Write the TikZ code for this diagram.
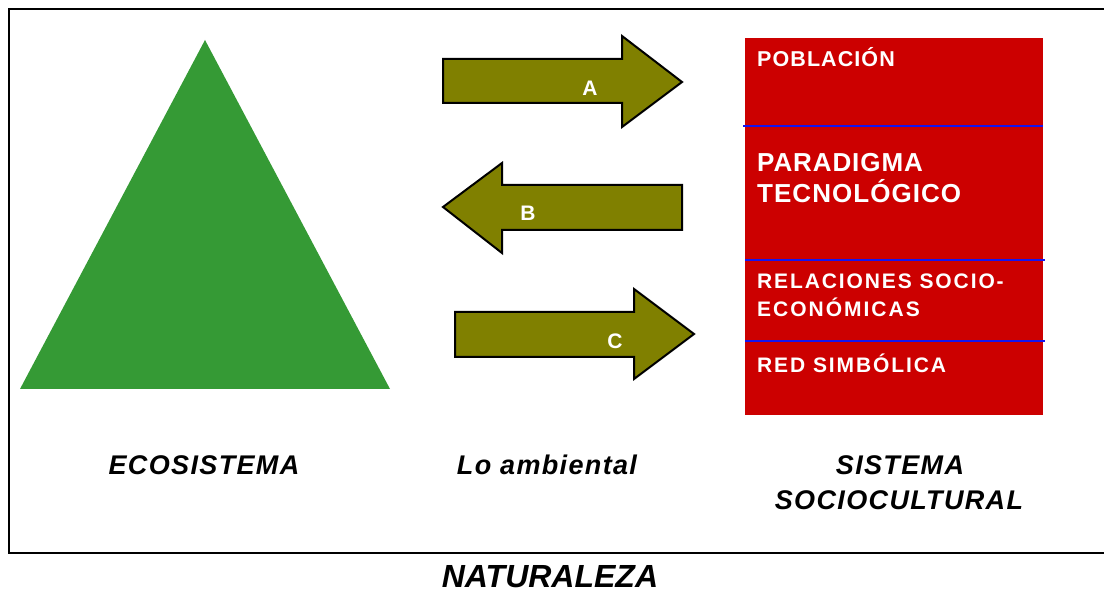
\documentclass[tikz,border=0pt]{standalone}
\usepackage{fontspec}
\setmainfont{Liberation Sans}
\definecolor{tri}{RGB}{53,154,53}
\definecolor{olive2}{RGB}{128,128,0}
\definecolor{boxred}{RGB}{204,0,0}
\definecolor{lineblue}{RGB}{20,20,240}
\newcommand{\fs}[2]{\fontsize{#1}{#1}\selectfont\addfontfeature{LetterSpace=#2}}
\begin{document}
\begin{tikzpicture}[x=1pt,y=-1pt,
  arrowshape/.style={fill=olive2,draw=black,line width=2pt,line join=miter},
  arrowlabel/.style={text=white,font=\bfseries\fontsize{21}{21}\selectfont,inner sep=0},
  boxtext/.style={text=white,anchor=base west,inner sep=0},
  caption/.style={font=\bfseries\itshape\fs{27}{5},inner sep=0,anchor=base},
  sep/.style={draw=lineblue,line width=1.5pt}]
\useasboundingbox (0,0) rectangle (1104,593);
\begin{scope}
\clip (0,0) rectangle (1104,593);
\draw[line width=2.5pt] (9,9) rectangle (1120,553);
\end{scope}
% triangle
\fill[tri] (205,40) -- (390,389) -- (20,389) -- cycle;
% arrows
\draw[arrowshape] (443,59) -- (622,59) -- (622,36) -- (682,82) -- (622,127) -- (622,103) -- (443,103) -- cycle;
\draw[arrowshape] (682,185) -- (502,185) -- (502,163) -- (443,207) -- (502,253) -- (502,230) -- (682,230) -- cycle;
\draw[arrowshape] (455,312) -- (634,312) -- (634,289) -- (694,334) -- (634,379) -- (634,357) -- (455,357) -- cycle;
\node[arrowlabel] (la) at (590,88) {A};
\node[arrowlabel] (lb) at (528,213) {B};
\node[arrowlabel] (lc) at (615,341) {C};
% red box
\fill[boxred] (745,38) rectangle (1043,415);
\draw[sep] (743,126) -- (1043,126);
\draw[sep] (745,260) -- (1045,260);
\draw[sep] (745,341) -- (1045,341);
\node[boxtext,font=\bfseries\fs{21.5}{5}] (pob) at (757,67) {POBLACIÓN};
\node[boxtext,font=\bfseries\fs{26}{3.5}] (par) at (757,172) {PARADIGMA};
\node[boxtext,font=\bfseries\fs{26}{4}] (tec) at (757,203) {TECNOLÓGICO};
\node[boxtext,font=\bfseries\fs{21}{9}] (rel) at (757,289) {RELACIONES SOCIO-};
\node[boxtext,font=\bfseries\fs{21}{9.5}] (eco) at (757,317) {ECONÓMICAS};
\node[boxtext,font=\bfseries\fs{21}{9}] (red) at (757,373) {RED SIMBÓLICA};
% captions
\node[caption] (ecosis) at (204,475) {ECOSISTEMA};
\node[caption] (amb) at (547,475) {Lo ambiental};
\node[caption] (sis) at (900,475) {SISTEMA};
\node[caption] (soc) at (899,510) {SOCIOCULTURAL};
\node[caption,font=\bfseries\itshape\fontsize{32}{32}\selectfont] (nat) at (550,587) {NATURALEZA};
\end{tikzpicture}
\end{document}
